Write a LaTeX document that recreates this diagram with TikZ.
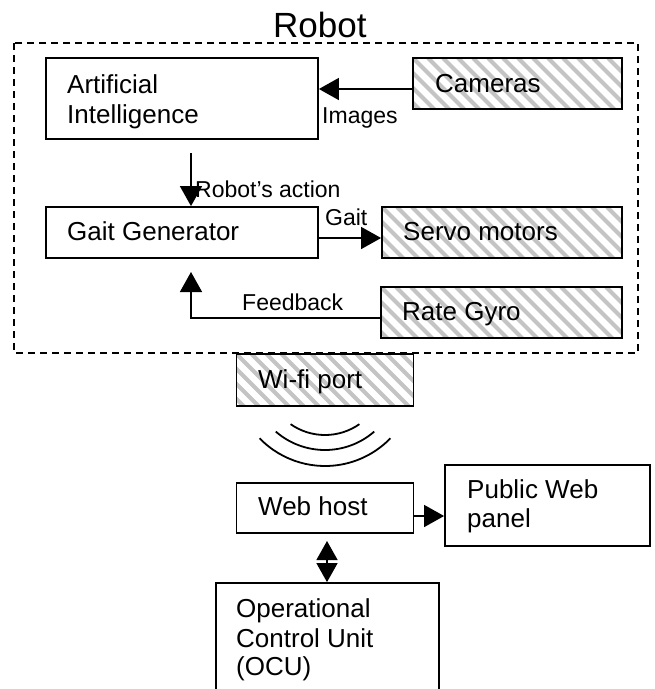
\documentclass[tikz,border=0pt]{standalone}
\usepackage{fontspec}
\setmainfont{Liberation Sans}
\usetikzlibrary{arrows.meta}
\definecolor{hatchgray}{RGB}{196,196,196}
\tikzset{
  x=1pt, y=-1pt,
  boxfont/.style={font=\fontsize{26}{29.5}\selectfont},
  lblfont/.style={font=\fontsize{23}{26}\selectfont},
  txt/.style={boxfont, anchor=base west, inner sep=0pt},
  lbl/.style={lblfont, anchor=base west, inner sep=0pt},
  box/.style={draw, line width=1.8pt, inner sep=0pt, fill=white},
  hatched/.style={box, path picture={
      \foreach \k in {-4,...,17}
        \draw[line width=4pt, hatchgray]
          ([xshift=\k*15pt]path picture bounding box.north west) -- ++(120,120);
  }},
  conn/.style={line width=1.4pt},
  arr/.style={conn, -{Triangle[length=20pt,width=22pt]}},
  darr/.style={conn, {Triangle[length=19pt,width=21pt]}-{Triangle[length=19pt,width=21pt]}},
  wave/.style={line width=1.8pt},
  robotframe/.style={line width=1.8pt, dash pattern=on 7pt off 5pt}
}
\begin{document}
\begin{tikzpicture}
\useasboundingbox (0,0) rectangle (655,689);
\clip (0,0) rectangle (655,689);
\fill[white] (0,0) rectangle (655,689);

% robot frame and title
\draw[robotframe] (14,43) rectangle (638,353);
\node[font=\fontsize{35}{40}\selectfont, anchor=base west, inner sep=0pt] (title) at (273,37) {Robot};

% boxes
\node[box, minimum width=272pt, minimum height=81pt] (ai) at (182,98.5) {};
\node[txt] (ai-t1) at (67,93) {Artificial};
\node[txt] (ai-t2) at (67,123) {Intelligence};

\node[hatched, minimum width=209pt, minimum height=51pt] (cam) at (517.5,83.5) {};
\node[txt] (cam-t) at (435,92) {Cameras};

\node[box, minimum width=272pt, minimum height=51pt] (gait) at (182,232.5) {};
\node[txt] (gait-t) at (67,240) {Gait Generator};

\node[hatched, minimum width=240pt, minimum height=51pt] (servo) at (502,232.5) {};
\node[txt] (servo-t) at (403,240) {Servo motors};

\node[hatched, minimum width=241pt, minimum height=51pt] (gyro) at (501.5,312.5) {};
\node[txt] (gyro-t) at (402,320) {Rate Gyro};

\node[hatched, minimum width=177pt, minimum height=52pt] (wifi) at (325,380) {};
\node[txt] (wifi-t) at (258,388) {Wi-fi port};

\node[box, minimum width=177pt, minimum height=50pt] (web) at (325,508) {};
\node[txt] (web-t) at (258,515) {Web host};

\node[box, minimum width=205pt, minimum height=81pt] (panel) at (547.5,505.5) {};
\node[txt] (panel-t1) at (467,498) {Public Web};
\node[txt] (panel-t2) at (467,527) {panel};

\node[box, minimum width=223pt, minimum height=140pt] (ocu) at (327.5,653) {};
\node[txt] (ocu-t1) at (236,617) {Operational};
\node[txt] (ocu-t2) at (236,647) {Control Unit};
\node[txt] (ocu-t3) at (236,675) {(OCU)};

% wireless waves
\coordinate (wc) at (325,375);
\draw[wave] (wc) ++(90+35:60) arc[start angle=90+35, end angle=90-35, radius=60];
\draw[wave] (wc) ++(90+41:75) arc[start angle=90+41, end angle=90-41, radius=75];
\draw[wave] (wc) ++(90+46:91) arc[start angle=90+46, end angle=90-46, radius=91];

% connectors
\draw[arr] (cam.west |- 0,89) -- (ai.east |- 0,89);
\node[lbl] (images) at (322,123) {Images};

\coordinate (actstart) at (191,153);
\draw[arr] (actstart) -- (gait.north -| actstart);
\node[lbl] (action) at (195,197) {Robot’s action};

\draw[arr] (gait.east |- 0,238) -- (servo.west |- 0,238);
\node[lbl] (gaitl) at (325,225) {Gait};

\coordinate (fbtip) at (191,272);
\draw[arr] (gyro.west |- 0,318) -| (fbtip);
\node[lbl] (fbl) at (242,310) {Feedback};

\draw[arr] (web.east |- 0,516) -- (panel.west |- 0,516);

\coordinate (dtop) at (327,541);
\draw[darr] (dtop) -- (ocu.north -| dtop);
\end{tikzpicture}
\end{document}
